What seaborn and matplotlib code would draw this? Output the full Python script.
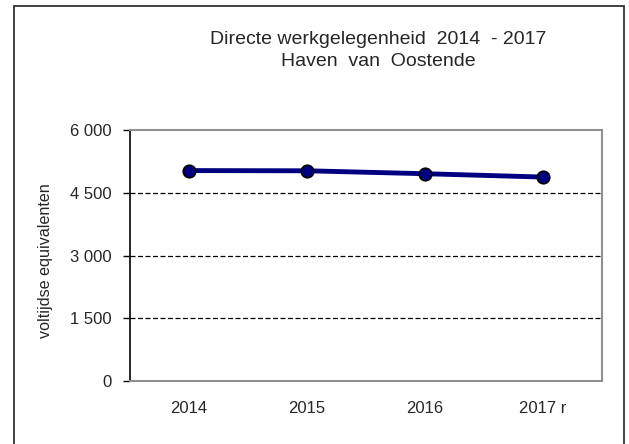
import numpy as np
import pandas as pd
import seaborn as sbn
import matplotlib.pyplot as plt
from matplotlib.patches import Rectangle
from matplotlib.ticker import FuncFormatter

years = ["2014", "2015", "2016", "2017 r"]
fte = [5030, 5025, 4955, 4875]
y_ticks = [0, 1500, 3000, 4500, 6000]


def space_thousands(v, pos):
    return "{:,.0f}".format(v).replace(",", " ")


sbn.set_style("white")
plt.rcParams['font.family'] = ['Liberation Sans', 'DejaVu Sans']

fig = plt.figure(figsize=(6.29, 4.44), dpi=100)
ax = fig.add_axes([130 / 629, 1 - 381 / 444, (602 - 130) / 629, (381 - 130) / 444])

data = pd.DataFrame({'year': years, 'fte': fte})
sbn.lineplot(data=data, x='year', y='fte', ax=ax, color='#000080', linewidth=3.5,
             marker='o', markersize=9, markerfacecolor='#000080',
             markeredgecolor='black', markeredgewidth=1.2, sort=False)

ax.set_xlim(-0.5, len(years) - 0.5)
ax.set_ylim(0, 6000)
ax.set_yticks(y_ticks)
ax.yaxis.set_major_formatter(FuncFormatter(space_thousands))
for v in y_ticks[1:-1]:
    ax.axhline(v, color='black', linestyle=(0, (4, 2)), linewidth=0.9, zorder=1)

ax.set_xlabel("")
ax.set_ylabel("voltijdse equivalenten", fontsize=11.6)
ax.yaxis.set_label_coords((53 - 130) / (602 - 130), 0.478)
ax.tick_params(axis='y', which='both', left=True, length=5, width=1, color='black',
               labelsize=12, pad=8)
ax.tick_params(axis='x', bottom=False, labelsize=12, pad=11)

ax.spines['left'].set_color('black')
ax.spines['left'].set_linewidth(1.2)
for s in ['top', 'right', 'bottom']:
    ax.spines[s].set_color('#909090')
    ax.spines[s].set_linewidth(1.5)
    ax.spines[s].set_linestyle((0, (3, 1)))

fig.text(378 / 629, 1 - 40 / 444, "Directe werkgelegenheid  2014  - 2017",
         ha='center', va='center', fontsize=14)
fig.text(378 / 629, 1 - 61 / 444, "Haven  van  Oostende",
         ha='center', va='center', fontsize=14)

fig.patches.append(Rectangle((14 / 629, -0.01), (624 - 14) / 629, 1 - 6 / 444 + 0.01,
                             transform=fig.transFigure, fill=False,
                             edgecolor='#333333', linewidth=1.3))

fig.savefig("out.png", dpi=100)
